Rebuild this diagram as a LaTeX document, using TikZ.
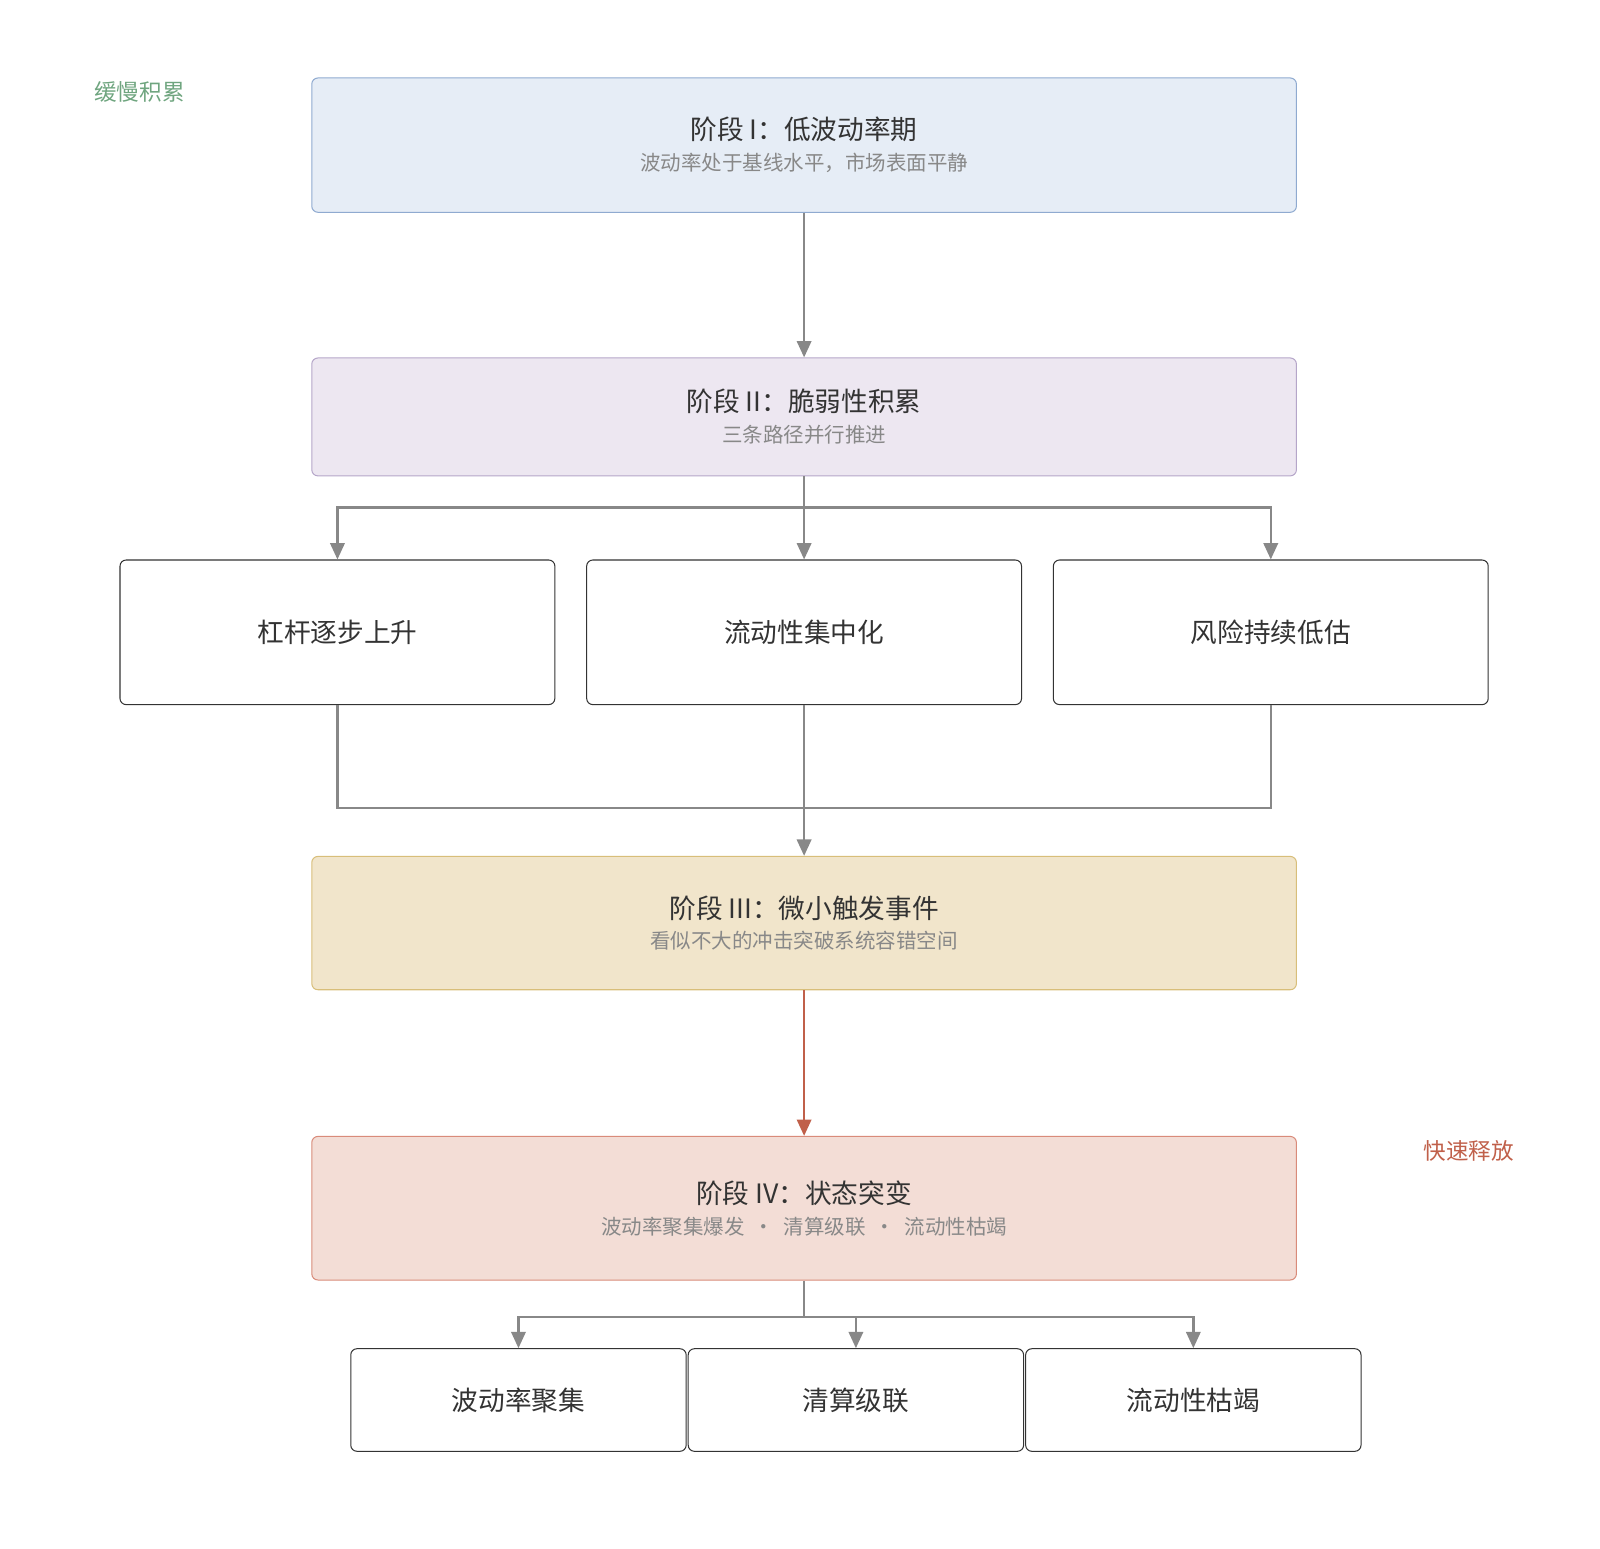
\documentclass[tikz,border=0pt]{standalone}
\usepackage{fontspec}
\setmainfont{Noto Sans CJK SC}
\usetikzlibrary{arrows.meta}
\definecolor{lnc}{HTML}{888888}
\definecolor{redc}{HTML}{C0604A}
\definecolor{txt}{HTML}{333333}
\definecolor{sub}{HTML}{888888}
\definecolor{f1}{HTML}{E6EDF6}\definecolor{d1}{HTML}{8FAAD0}
\definecolor{f2}{HTML}{EDE7F1}\definecolor{d2}{HTML}{B5A6C9}
\definecolor{f3}{HTML}{F1E5CB}\definecolor{d3}{HTML}{D8BE7A}
\definecolor{f4}{HTML}{F3DDD6}\definecolor{d4}{HTML}{D98B7A}
\definecolor{grn}{HTML}{6FA57F}
\tikzset{
 stage/.style={draw, rounded corners=6pt, line width=1pt, minimum width=960pt, inner sep=0pt, align=center, text=txt},
 leaf/.style={draw=txt, fill=white, rounded corners=6pt, line width=1pt, inner sep=0pt, text=txt, font=\fontsize{26}{30}\selectfont},
 conn/.style={draw=lnc, line width=2.5pt, -{Triangle[length=16pt,width=14pt]}},
 seg/.style={draw=lnc, line width=2.5pt},
}
\newcommand{\stg}[2]{{\fontsize{26}{30}\selectfont #1}\\[10pt]{\fontsize{20}{24}\selectfont\color{sub} #2}}
\begin{document}
\begin{tikzpicture}[x=1pt,y=-1pt]
\useasboundingbox (0,0) rectangle (1560,1509.3);
\node[stage, fill=f1, draw=d1, minimum height=131pt] (s1) at (784,141.5) {\stg{阶段 I：低波动率期}{波动率处于基线水平，市场表面平静}};
\node[stage, fill=f2, draw=d2, minimum height=115pt] (s2) at (784,406.5) {\stg{阶段 II：脆弱性积累}{三条路径并行推进}};
\node[leaf, minimum width=424pt, minimum height=141pt] (a) at (329,616.5) {杠杆逐步上升};
\node[leaf, minimum width=424pt, minimum height=141pt] (b) at (784,616.5) {流动性集中化};
\node[leaf, minimum width=424pt, minimum height=141pt] (c) at (1239,616.5) {风险持续低估};
\node[stage, fill=f3, draw=d3, minimum height=130pt] (s3) at (784,900) {\stg{阶段 III：微小触发事件}{看似不大的冲击突破系统容错空间}};
\node[stage, fill=f4, draw=d4, minimum height=140pt] (s4) at (784,1178) {\stg{阶段 IV：状态突变}{波动率聚集爆发 \ · \ 清算级联 \ · \ 流动性枯竭}};
\node[leaf, minimum width=327pt, minimum height=100pt] (d) at (505.5,1365) {波动率聚集};
\node[leaf, minimum width=327pt, minimum height=100pt] (e) at (834.5,1365) {清算级联};
\node[leaf, minimum width=327pt, minimum height=100pt] (f) at (1163.5,1365) {流动性枯竭};
\node[text=grn, font=\fontsize{22}{26}\selectfont] (l1) at (136,90) {缓慢积累};
\node[text=redc, font=\fontsize{22}{26}\selectfont] (l2) at (1432,1122) {快速释放};
\coordinate (j1) at (784,495);
\coordinate (j2) at (784,788);
\coordinate (j3) at (784,1284);
\draw[conn] (s1) -- (s2);
\draw[seg] (s2.south) -- (j1);
\draw[conn] (j1) -| (a.north);
\draw[conn] (j1) -- (b.north);
\draw[conn] (j1) -| (c.north);
\draw[seg] (a.south) |- (j2);
\draw[seg] (c.south) |- (j2);
\draw[seg] (b.south) -- (j2);
\draw[conn] (j2) -- (s3.north);
\draw[conn, draw=redc, -{Triangle[length=16pt,width=14pt,fill=redc]}] (s3) -- (s4);
\draw[seg] (s4.south) -- (j3);
\draw[conn] (j3) -| (d.north);
\draw[conn] (j3) -| (e.north);
\draw[conn] (j3) -| (f.north);
\end{tikzpicture}
\end{document}
